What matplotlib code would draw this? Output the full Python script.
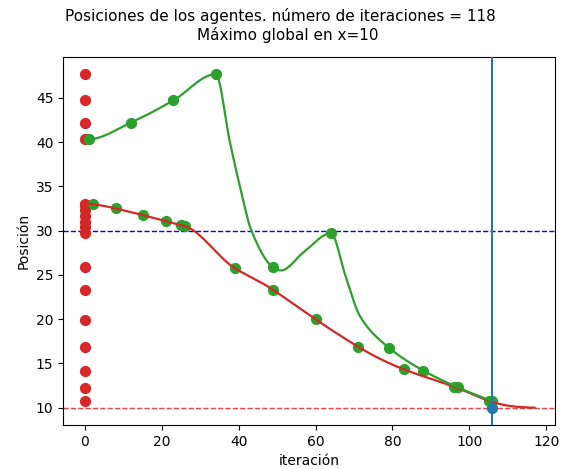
import numpy as np
import matplotlib
matplotlib.use("Agg")
import matplotlib.pyplot as plt

# Posiciones iniciales de los agentes (iteración 0)
pos_iniciales = [47.66, 44.7, 42.15, 40.33, 33.05, 32.9, 32.3, 31.6, 31.0,
                 30.4, 29.7, 25.85, 23.3, 19.95, 16.85, 14.2, 12.26, 10.72]

# Agente que parte de la zona alta: posiciones marcadas
iter_sup = [1, 12, 23, 34, 49, 64, 79, 88, 97, 106]
pos_sup = [40.33, 42.2, 44.7, 47.66, 25.85, 29.7, 16.8, 14.2, 12.3, 10.72]

# Agente que parte de la zona alta: trayectoria completa
tray_sup_iter = [0, 1, 12, 23, 34, 37.7, 40.3, 43.3, 49, 51, 57,
                 64, 67.7, 71.6, 79, 88, 97, 106]
tray_sup_pos = [40.33, 40.33, 42.2, 44.7, 47.66, 40.0, 35.0, 30.0,
                25.85, 25.5, 27.6, 29.7, 25.0, 20.3, 16.8, 14.2, 12.3,
                10.72]

# Agente que parte de la zona baja: posiciones marcadas
iter_inf = [2, 8, 15, 21, 25, 26, 39, 49, 60, 71, 83, 96, 105]
pos_inf = [32.99, 32.5, 31.75, 31.07, 30.6, 30.5, 25.75, 23.3, 19.98, 16.9,
           14.33, 12.37, 10.79]

# Curva media: extremos
iter_ini, pos_ini_media = 0, 33.05
iter_fin, pos_fin_media = 117, 10.0

# Mejor posición encontrada
iter_mejor = 106
pos_mejor = 9.93

n_iter = 118
maximo_x = 10
linea_ref = 30


def hermite(x, y, d, xs):
    idx = np.clip(np.searchsorted(x, xs) - 1, 0, len(x) - 2)
    hh = x[idx + 1] - x[idx]
    s = (xs - x[idx]) / hh
    h00 = 2 * s ** 3 - 3 * s ** 2 + 1
    h10 = s ** 3 - 2 * s ** 2 + s
    h01 = -2 * s ** 3 + 3 * s ** 2
    h11 = s ** 3 - s ** 2
    return (h00 * y[idx] + h10 * hh * d[idx] + h01 * y[idx + 1]
            + h11 * hh * d[idx + 1])


def akima(x, y, xs):
    x = np.asarray(x, float)
    y = np.asarray(y, float)
    m = np.diff(y) / np.diff(x)
    mm = np.concatenate([[3 * m[0] - 2 * m[1], 2 * m[0] - m[1]], m,
                         [2 * m[-1] - m[-2], 3 * m[-1] - 2 * m[-2]]])
    dm = np.abs(np.diff(mm))
    w1 = dm[2:]
    w2 = dm[:-2]
    den = w1 + w2
    d = np.where(den > 1e-12,
                 (w1 * mm[1:-2] + w2 * mm[2:-1]) / np.where(den > 1e-12, den, 1),
                 0.5 * (mm[1:-2] + mm[2:-1]))
    return hermite(x, y, d, xs)


def pchip(x, y, xs):
    x = np.asarray(x, float)
    y = np.asarray(y, float)
    h = np.diff(x)
    m = np.diff(y) / h
    d = np.zeros_like(y)
    for k in range(1, len(x) - 1):
        if m[k - 1] * m[k] > 0:
            w1 = 2 * h[k] + h[k - 1]
            w2 = h[k] + 2 * h[k - 1]
            d[k] = (w1 + w2) / (w1 / m[k - 1] + w2 / m[k])
    d[0] = m[0]
    d[-1] = m[-1]
    return hermite(x, y, d, xs)


fig = plt.figure(figsize=(5.61, 4.69), dpi=100)
ax = fig.add_axes([0.1128, 0.0938, 0.9893 - 0.1128, 0.8785 - 0.0938])

ax.scatter(np.zeros(len(pos_iniciales)), pos_iniciales, s=50, color="tab:red", zorder=2)
ax.scatter(iter_sup, pos_sup, s=50, color="tab:green", zorder=2)
ax.scatter(iter_inf, pos_inf, s=50, color="tab:green", zorder=2)

# Curva media (roja)
xr = [iter_ini] + iter_inf + [iter_fin]
yr = [pos_ini_media] + pos_inf + [pos_fin_media]
xs_r = np.linspace(xr[0], xr[-1], 800)
ax.plot(xs_r, akima(xr, yr, xs_r), color="tab:red", lw=1.6, zorder=3)

# Trayectoria del agente superior (verde)
xs_g = np.linspace(tray_sup_iter[0], tray_sup_iter[-1], 1200)
ax.plot(xs_g, pchip(tray_sup_iter, tray_sup_pos, xs_g), color="tab:green",
        lw=1.6, zorder=3)

ax.scatter([iter_mejor], [pos_mejor], s=50, color="tab:blue", zorder=4)
ax.axvline(iter_mejor, color="tab:blue", lw=1.5, zorder=4)
ax.axhline(linea_ref, color="b", ls="--", lw=1, zorder=1)
ax.axhline(maximo_x, color="r", ls="--", lw=1, alpha=0.75, zorder=1)

ax.set_xlim(-5.65, 122.3)
ax.set_ylim(8.05, 49.6)
ax.set_xlabel("iteración")
ax.set_ylabel("Posición")

W, H = 561, 469
fig.text(280 / W, 1 - 21 / H,
         f"Posiciones de los agentes. número de iteraciones = {n_iter}",
         ha="center", va="baseline", fontsize=11)
fig.text(288 / W, 1 - 40 / H, f"Máximo global en x={maximo_x}",
         ha="center", va="baseline", fontsize=11)

fig.savefig("out.png", dpi=100)
